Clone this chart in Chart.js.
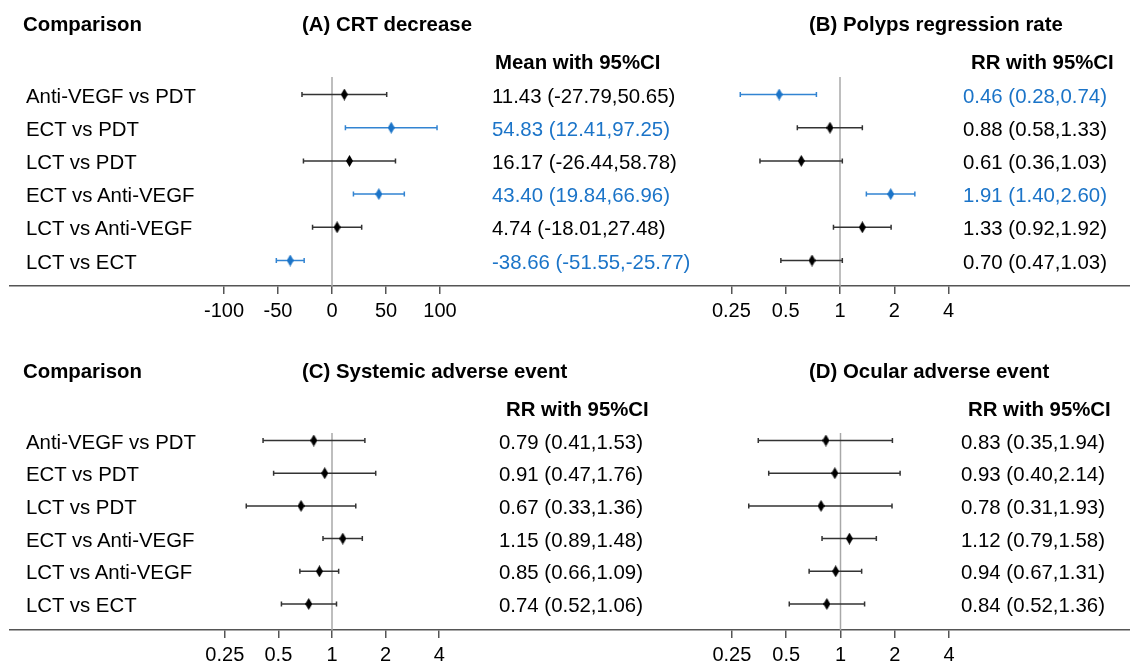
<!DOCTYPE html>
<html>
<head>
<meta charset="utf-8">
<script src="https://cdn.jsdelivr.net/npm/chart.js@4.4.1/dist/chart.umd.min.js"></script>
<style>
  html, body { margin: 0; padding: 0; background: #fff; }
  #page { position: relative; width: 1130px; height: 663px; overflow: hidden;
          font-family: "Liberation Sans", Arial, sans-serif; font-size: 20.4px; color: #000; }
  #page canvas { position: absolute; }
  .t { position: absolute; white-space: nowrap; line-height: 20px; transform: translateY(-50%); }
  .b { font-weight: bold; }
  .sig { color: #1b74c8; }
</style>
</head>
<body>
<div id="page"></div>
<script>
// ---- data -----------------------------------------------------------
const comparisons = ['Anti-VEGF vs PDT', 'ECT vs PDT', 'LCT vs PDT',
                     'ECT vs Anti-VEGF', 'LCT vs Anti-VEGF', 'LCT vs ECT'];

const crtMean = [11.43, 54.83, 16.17, 43.40, 4.74, -38.66];
const crtLow  = [-27.79, 12.41, -26.44, 19.84, -18.01, -51.55];
const crtHigh = [50.65, 97.25, 58.78, 66.96, 27.48, -25.77];

const polypsRR   = [0.46, 0.88, 0.61, 1.91, 1.33, 0.70];
const polypsLow  = [0.28, 0.58, 0.36, 1.40, 0.92, 0.47];
const polypsHigh = [0.74, 1.33, 1.03, 2.60, 1.92, 1.03];

const systemicRR   = [0.79, 0.91, 0.67, 1.15, 0.85, 0.74];
const systemicLow  = [0.41, 0.47, 0.33, 0.89, 0.66, 0.52];
const systemicHigh = [1.53, 1.76, 1.36, 1.48, 1.09, 1.06];

const ocularRR   = [0.83, 0.93, 0.78, 1.12, 0.94, 0.84];
const ocularLow  = [0.35, 0.40, 0.31, 0.79, 0.67, 0.52];
const ocularHigh = [1.94, 2.14, 1.93, 1.58, 1.31, 1.36];

const meanTicks = [-100, -50, 0, 50, 100];
const rrTicks   = [0.25, 0.5, 1, 2, 4];

// ---- look -------------------------------------------------------------
const FONT = '"Liberation Sans", Arial, sans-serif';
const BLUE = '#1b74c8', BLUE_LINE = '#3284d2', DARK = '#333';

function diamond(color) {
  const c = document.createElement('canvas');
  c.width = 7; c.height = 12;
  const g = c.getContext('2d');
  g.fillStyle = color;
  g.beginPath(); g.moveTo(3.5, 0); g.lineTo(7, 6); g.lineTo(3.5, 12); g.lineTo(0, 6); g.closePath();
  g.fill();
  return c;
}
const dBlue = diamond(BLUE), dBlack = diamond('#000');

// panel layout (pixels) -------------------------------------------------
const upperRow = { top: 0, h: 330, axisH: 44, firstRow: 94.5, rowStep: 33.2, refTop: 77, titleY: 24, headY: 62 };
const lowerRow = { top: 330, h: 333, axisH: 33, firstRow: 110.5, rowStep: 32.7, refTop: 103, titleY: 371, headY: 409 };

const panels = [
  { ...upperRow, left: 0, padL: 10, log: false, nullVal: 0, nullPx: 332, stepPx: 54, stepVal: 50,
    est: crtMean, lo: crtLow, hi: crtHigh, ticks: meanTicks,
    title: '(A) CRT decrease', titleX: 302, head: 'Mean with 95%CI', headX: 495, valX: 492, comp: true },
  { ...upperRow, left: 565, padL: 0, log: true, nullVal: 1, nullPx: 840, stepPx: 54.3,
    est: polypsRR, lo: polypsLow, hi: polypsHigh, ticks: rrTicks,
    title: '(B) Polyps regression rate', titleX: 809, head: 'RR with 95%CI', headX: 971, valX: 963 },
  { ...lowerRow, left: 0, padL: 10, log: true, nullVal: 1, nullPx: 332, stepPx: 53.6,
    est: systemicRR, lo: systemicLow, hi: systemicHigh, ticks: rrTicks,
    title: '(C) Systemic adverse event', titleX: 302, head: 'RR with 95%CI', headX: 506, valX: 499, comp: true },
  { ...lowerRow, left: 565, padL: 0, log: true, nullVal: 1, nullPx: 840.5, stepPx: 54.3,
    est: ocularRR, lo: ocularLow, hi: ocularHigh, ticks: rrTicks,
    title: '(D) Ocular adverse event', titleX: 809, head: 'RR with 95%CI', headX: 968, valX: 961 }
];

const page = document.getElementById('page');
function text(str, x, y, cls) {
  const d = document.createElement('div');
  d.className = 't ' + (cls || '');
  d.textContent = str;
  d.style.left = x + 'px'; d.style.top = y + 'px';
  page.appendChild(d);
}
const sig = (p, i) => p.lo[i] > p.nullVal || p.hi[i] < p.nullVal;

panels.forEach(p => {
  const cv = document.createElement('canvas');
  cv.width = 565; cv.height = p.h;
  cv.style.left = p.left + 'px'; cv.style.top = p.top + 'px';
  page.appendChild(cv);

  // x range so that the null value and the tick spacing land where the figure has them
  const leftPx = p.left + p.padL, rightPx = p.left + 565;
  const xMin = p.log ? Math.pow(2, (leftPx - p.nullPx) / p.stepPx) : p.nullVal + (leftPx - p.nullPx) / p.stepPx * p.stepVal;
  const xMax = p.log ? Math.pow(2, (rightPx - p.nullPx) / p.stepPx) : p.nullVal + (rightPx - p.nullPx) / p.stepPx * p.stepVal;
  const yMin = -p.firstRow / p.rowStep;
  const yMax = yMin + (p.h - p.axisH) / p.rowStep;

  const whiskers = {
    id: 'whiskers',
    beforeDatasetsDraw(chart) {
      const { ctx, chartArea, scales: { x, y } } = chart;
      ctx.save();
      ctx.lineWidth = 1.5;
      const x0 = x.getPixelForValue(p.nullVal);
      ctx.strokeStyle = '#a8a8a8';
      ctx.beginPath(); ctx.moveTo(x0, p.refTop); ctx.lineTo(x0, chartArea.bottom); ctx.stroke();
      p.lo.forEach((l, i) => {
        const xl = x.getPixelForValue(l), xh = x.getPixelForValue(p.hi[i]), yy = y.getPixelForValue(i);
        ctx.strokeStyle = sig(p, i) ? BLUE_LINE : DARK;
        ctx.beginPath();
        ctx.moveTo(xl, yy); ctx.lineTo(xh, yy);
        ctx.moveTo(xl, yy - 2.5); ctx.lineTo(xl, yy + 2.5);
        ctx.moveTo(xh, yy - 2.5); ctx.lineTo(xh, yy + 2.5);
        ctx.stroke();
      });
      ctx.restore();
    }
  };

  const chart = new Chart(cv, {
    type: 'scatter',
    data: {
      datasets: [{
        data: p.est.map((v, i) => ({ x: v, y: i })),
        pointStyle: p.est.map((v, i) => sig(p, i) ? dBlue : dBlack),
        pointRadius: 5
      }]
    },
    options: {
      responsive: false, animation: false, devicePixelRatio: 1,
      layout: { padding: { left: p.padL, right: 0, top: 0, bottom: 0 }, autoPadding: false },
      plugins: { legend: { display: false }, tooltip: { enabled: false } },
      scales: {
        x: {
          type: p.log ? 'logarithmic' : 'linear',
          min: xMin, max: xMax,
          afterBuildTicks: s => { s.ticks = p.ticks.map(v => ({ value: v })); },
          afterFit: s => { s.height = p.axisH; },
          ticks: { color: '#000', padding: 5, maxRotation: 0, autoSkip: false,
                   font: { family: FONT, size: 20 }, callback: v => String(v) },
          grid: { drawOnChartArea: false, drawTicks: true, tickLength: 8, color: '#555', lineWidth: 1.5 },
          border: { display: true, color: '#555', width: 1.5 }
        },
        y: { type: 'linear', reverse: true, min: yMin, max: yMax, display: false }
      }
    },
    plugins: [whiskers]
  });

  // texts, rows placed through the chart's own y scale
  const ys = chart.scales.y;
  if (p.comp) text('Comparison', 23, p.titleY, 'b');
  text(p.title, p.titleX, p.titleY, 'b');
  text(p.head, p.headX, p.headY, 'b');
  p.est.forEach((v, i) => {
    const yy = p.top + ys.getPixelForValue(i) + 1;
    if (p.comp) text(comparisons[i], 26, yy);
    text(`${v.toFixed(2)} (${p.lo[i].toFixed(2)},${p.hi[i].toFixed(2)})`, p.valX, yy, sig(p, i) ? 'sig' : '');
  });
});
</script>
</body>
</html>
